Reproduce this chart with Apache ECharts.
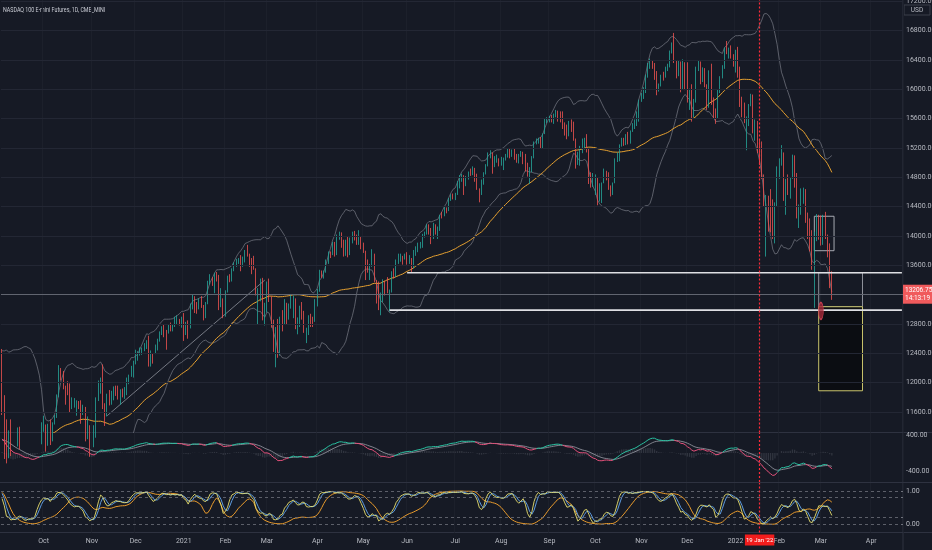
<!DOCTYPE html>
<html lang="en">
<head>
<meta charset="UTF-8">
<title>NASDAQ 100 E-mini Futures, 1D</title>
<style>
  html, body { margin: 0; padding: 0; background: #161a25; }
  #main { width: 932px; height: 550px; }
</style>
</head>
<body>
<div id="main"></div>
<script src="https://cdn.jsdelivr.net/npm/echarts@6/dist/echarts.min.js"></script>
<script>
  // exchange holidays (no daily bar)
  var holidays = ['2020-07-03', '2020-09-07', '2020-11-26', '2020-12-25', '2021-01-01', '2021-01-18',
    '2021-02-15', '2021-04-02', '2021-05-31', '2021-07-05', '2021-09-06', '2021-11-25', '2021-12-24',
    '2022-01-17', '2022-02-21', '2022-04-15'];
  var firstDay = '2020-09-03';
  var slotCount = 412;

  // closes before the first visible bar (Jul 1 - Sep 2 2020), only used for the indicators
  var warmupCloses = [
    10400, 10450, 10680, 10580, 10760, 10820, 10880, 10620, 10760, 10800, 10720, 10770, 11050, 10870, 10900, 10630, 10560, 10690, 10550, 10720, 10780, 10950,
    11080, 11120, 11160, 11300, 11200, 11130, 10900, 11180, 11210, 11190, 11350, 11430, 11380, 11510, 11590, 11680, 11770, 12000, 11950, 12070, 12100,
    12300, 12420
  ];

  var closes = [
    11700, 11500, 10970, 11280, 11050, 10960, 11150, 11280, 11120, 10990, 10880, 10920, 11090, 10760, 10800, 11060, 11230, 11200, 11330,
    11430, 11150, 11420, 11200, 11430, 11520, 11820, 12140, 12100, 11960, 11900, 11850, 11640, 11690, 11700, 11740, 11730, 11570, 11670, 11230, 11420, 11080,
    11150, 11330, 11750, 11990, 12000, 11700, 11540, 11820, 11740, 11860, 11920, 11880, 11780, 11890, 11820, 11860, 12030, 12080, 12200, 12250,
    12400, 12410, 12420, 12460, 12520, 12560, 12290, 12400, 12390, 12440, 12580, 12660, 12740, 12720, 12700, 12780, 12720, 12770, 12830, 12830, 12810, 12880,
    12690, 12800, 12740, 13050, 13180, 13040, 13030, 13110, 13040, 12890, 13070, 13370, 13440, 13390, 13450, 13420, 13050, 13150, 12930,
    13230, 13410, 13390, 13550, 13600, 13660, 13660, 13620, 13690, 13800, 13760, 13700, 13600, 13560, 13220, 13240, 13390, 12880, 12960,
    13360, 13130, 12770, 12560, 12700, 12370, 12850, 12800, 13090, 12990, 13050, 13100, 13150, 12750, 12830, 13010, 12880, 12690, 12710, 12900, 12890, 12830, 13060,
    13250, 13500, 13470, 13500, 13660, 13780, 13760, 13900, 13740, 14000, 14030, 13900, 13790, 13930, 13760, 13910, 14050, 13980, 13930, 14000, 13860,
    13800, 13560, 13520, 13600, 13730, 13380, 13360, 13000, 13100, 13390, 13300, 13230, 13240, 13500, 13440, 13650, 13680, 13720, 13690, 13700,
    13680, 13700, 13560, 13790, 13840, 13850, 13860, 14000, 14030, 14150, 14050, 13980, 14160, 14030, 14110, 14280, 14270, 14370, 14350, 14510, 14550, 14540,
    14560, 14740, 14800, 14830, 14700, 14800, 14860, 14850, 14910, 14780, 14650, 14580, 14740, 14850, 14960, 15130, 15140, 14970, 15060, 15060, 14990,
    15000, 15060, 15100, 15190, 15110, 15160, 15080, 15030, 15100, 15150, 15120, 14950, 14820, 14900, 15060, 15270, 15290, 15320, 15210, 15390, 15580, 15590,
    15600, 15590, 15650, 15690, 15660, 15570, 15480, 15440, 15420, 15550, 15540, 15330, 15000, 15010, 15150, 15300, 15330, 15200, 14750, 14690, 14690,
    14800, 14470, 14660, 14720, 14850, 14780, 14640, 14590, 14720, 15040, 15120, 15240, 15320, 15290, 15380, 15280, 15430, 15470, 15510, 15680, 15850,
    15920, 16010, 16170, 16340, 16350, 16320, 16220, 15970, 16050, 16190, 16180, 16290, 16310, 16510, 16570, 16380, 16310, 16380, 16000, 16370, 16140,
    15840, 15960, 15690, 15820, 16290, 16370, 16100, 16280, 16060, 15880, 16240, 15830, 15740, 15600, 15990, 16170, 16290, 16560, 16500, 16510, 16440, 16330,
    16500, 16280, 15770, 15760, 15590, 15600, 15790, 15830, 15420, 15570, 15160, 14990, 14800, 14420, 14550, 14190, 14170, 14000, 14440, 14930,
    15030, 15140, 14510, 14700, 14590, 14780, 15100, 14740, 14280, 14290, 14640, 14640, 14200, 14050, 13890, 13560, 14040, 14260, 14240,
    14010, 14240, 14010, 13840, 13320, 13206.75
  ];
  var highs = [
    12460, 11830, 11450, 11350, 11500, 11200, 11250, 11390, 11400, 11070, 11080, 10960, 11140, 11150, 10950, 11100, 11300, 11290, 11460,
    11550, 11330, 11440, 11500, 11460, 11560, 11840, 12240, 12200, 12160, 11940, 12020, 11990, 11800, 11790, 11760, 11750, 11760, 11700, 11620, 11540, 11390,
    11280, 11420, 11800, 12030, 12070, 12250, 11720, 11850, 11900, 11890, 11950, 11960, 11960, 11910, 11920, 11940, 12070, 12110, 12230, 12300,
    12450, 12430, 12480, 12480, 12540, 12580, 12640, 12440, 12400, 12520, 12600, 12700, 12770, 12790, 12720, 12800, 12820, 12790, 12900, 12920, 12870, 12900,
    12950, 12830, 12850, 13080, 13200, 13120, 13100, 13150, 13180, 13060, 13100, 13390, 13480, 13430, 13500, 13510, 13470, 13290, 13140,
    13260, 13460, 13480, 13560, 13640, 13690, 13700, 13740, 13720, 13810, 13880, 13760, 13660, 13730, 13560, 13290, 13420, 13430, 13090,
    13380, 13420, 13180, 12860, 12760, 12870, 12900, 12990, 13140, 13030, 13080, 13200, 13190, 13140, 12890, 13050, 13100, 12980, 12750, 12920, 12940, 12900, 13140,
    13280, 13540, 13530, 13530, 13680, 13790, 13790, 13920, 13920, 14020, 14060, 14050, 13950, 13950, 14000, 13980, 14060, 14070, 14020, 14080, 13980,
    13910, 13800, 13680, 13620, 13820, 13760, 13400, 13380, 13230, 13410, 13380, 13440, 13270, 13520, 13560, 13680, 13760, 13760, 13730, 13760,
    13780, 13740, 13680, 13810, 13860, 13910, 13920, 14030, 14060, 14160, 14160, 14110, 14180, 14160, 14130, 14290, 14330, 14400, 14390, 14520, 14570, 14580,
    14590, 14750, 14830, 14850, 14780, 14820, 14880, 14920, 14950, 14930, 14850, 14620, 14770, 14870, 14980, 15140, 15170, 15130, 15090, 15110, 15060,
    15080, 15070, 15120, 15200, 15200, 15180, 15190, 15120, 15120, 15160, 15150, 15070, 15000, 14940, 15090, 15290, 15330, 15340, 15350, 15400, 15600, 15620,
    15640, 15650, 15670, 15720, 15710, 15700, 15700, 15550, 15520, 15570, 15590, 15560, 15320, 15150, 15230, 15330, 15340, 15390, 15180, 14870, 14860,
    14840, 14770, 14720, 14730, 14920, 14890, 14870, 14690, 14730, 15060, 15140, 15250, 15340, 15340, 15390, 15420, 15440, 15540, 15590, 15700, 15860,
    15950, 16030, 16200, 16360, 16420, 16400, 16360, 16250, 16080, 16200, 16240, 16310, 16350, 16530, 16640, 16770, 16390, 16400, 16380, 16410, 16370,
    16370, 16010, 16070, 15870, 16310, 16400, 16380, 16300, 16290, 16070, 16260, 16350, 15890, 15700, 16000, 16180, 16330, 16570, 16660, 16570, 16600, 16480,
    16540, 16580, 16310, 15900, 15820, 15630, 15800, 15940, 15930, 15590, 15480, 15320, 15290, 14840, 14560, 14450, 14640, 14500, 14460, 14950,
    15060, 15240, 14980, 14780, 14840, 14800, 15110, 15080, 14860, 14430, 14650, 14660, 14640, 14320, 14240, 14080, 14060, 14300, 14290,
    14280, 14290, 14330, 14020, 13900, 13520
  ];
  var lows = [
    11560, 10960, 10900, 11000, 11000, 10770, 11000, 11130, 11090, 10820, 10780, 10620, 10880, 10730, 10670, 10750, 11090, 11140, 11160,
    11350, 11060, 11140, 11150, 11250, 11430, 11530, 11800, 12030, 11910, 11700, 11830, 11600, 11640, 11660, 11550, 11640, 11440, 11560, 11200, 11230, 10990,
    10990, 11120, 11250, 11770, 11850, 11640, 11410, 11560, 11690, 11700, 11760, 11820, 11770, 11700, 11800, 11780, 11830, 11980, 12080, 12070,
    12270, 12300, 12370, 12380, 12430, 12460, 12220, 12220, 12260, 12390, 12440, 12560, 12650, 12620, 12450, 12670, 12700, 12700, 12760, 12800, 12780, 12750,
    12570, 12650, 12600, 12770, 13000, 12950, 12940, 13000, 13020, 12850, 12880, 13080, 13340, 13320, 13220, 13380, 12990, 13030, 12880,
    12900, 13250, 13370, 13380, 13520, 13580, 13620, 13520, 13580, 13640, 13720, 13580, 13480, 13540, 13190, 12800, 13110, 12850, 12780,
    12980, 13100, 12750, 12420, 12210, 12340, 12480, 12700, 12860, 12800, 12860, 13010, 12880, 12730, 12660, 12760, 12860, 12680, 12540, 12650, 12760, 12760, 12830,
    13040, 13240, 13430, 13420, 13540, 13620, 13700, 13740, 13720, 13800, 13950, 13840, 13720, 13730, 13710, 13740, 13900, 13940, 13880, 13880, 13820,
    13770, 13400, 13500, 13400, 13580, 13370, 13080, 12990, 12920, 13100, 13190, 13220, 12970, 13230, 13420, 13440, 13620, 13650, 13610, 13680,
    13610, 13620, 13500, 13560, 13730, 13780, 13830, 13840, 13980, 14020, 14020, 13890, 13960, 14020, 13960, 14070, 14240, 14280, 14310, 14340, 14480, 14500,
    14490, 14560, 14650, 14740, 14560, 14680, 14770, 14820, 14830, 14740, 14630, 14460, 14560, 14700, 14840, 14950, 15060, 14850, 14940, 15000, 14950,
    14960, 14900, 15030, 15070, 15060, 15080, 15040, 15000, 14990, 15080, 14980, 14880, 14810, 14710, 14870, 15060, 15250, 15260, 15200, 15190, 15390, 15540,
    15550, 15550, 15530, 15620, 15560, 15550, 15460, 15370, 15320, 15360, 15420, 15300, 14920, 14970, 14960, 15130, 15180, 15140, 14710, 14660, 14670,
    14560, 14420, 14470, 14450, 14790, 14760, 14630, 14540, 14560, 14760, 15010, 15020, 15220, 15230, 15240, 15250, 15260, 15420, 15460, 15500, 15560,
    15830, 15870, 15950, 16160, 16280, 16280, 16130, 15920, 15970, 16040, 16120, 16160, 16250, 16300, 16490, 16360, 16150, 16180, 15960, 16050, 15990,
    15820, 15720, 15560, 15620, 15860, 16250, 16070, 16100, 16030, 15720, 15750, 15790, 15600, 15530, 15680, 15950, 16150, 16280, 16480, 16420, 16420, 16310,
    16230, 16160, 15760, 15620, 15540, 15170, 15500, 15770, 15400, 15300, 15130, 14970, 14780, 14400, 13720, 14060, 14050, 13960, 13900, 14410,
    14780, 14960, 14480, 14290, 14560, 14510, 14840, 14660, 14240, 14110, 14330, 14440, 14180, 13960, 13790, 13540, 13020, 13930, 13950,
    13870, 13880, 13960, 13710, 13290, 13130
  ];

  var titleText = 'NASDAQ 100 E-mini Futures, 1D, CME_MINI';
  var priceTicks = [11600, 12000, 12400, 12800, 13200, 13600, 14000, 14400, 14800, 15200, 15600, 16000, 16400, 16800, 17200];
  var macdTicks = [400, -400];
  var stochTicks = [1, 0];
  var stochLevels = [1, 0.8, 0.2, 0];
  var lastPrice = 13206.75;
  var countdown = '14:13:19';
  var markedDay = '2022-01-19';
  var markedLabel = "19 Jan '22";
  var upperLevel = ['2021-06-01', 13500];
  var lowerLevel = ['2021-05-19', 12990];
  var trendFrom = ['2020-11-11', 11550];
  var trendTo = ['2021-02-26', 13400];
  var boxSmall = [['2022-02-24', 14270], ['2022-03-09', 13800]];
  var boxStop = [['2022-02-28', 13500], ['2022-03-28', 13036]];
  var boxTarget = [['2022-02-28', 13036], ['2022-03-28', 11890]];
  var lowMark = ['2022-03-01', 12980];

  var monthNames = ['Jan', 'Feb', 'Mar', 'Apr', 'May', 'Jun', 'Jul', 'Aug', 'Sep', 'Oct', 'Nov', 'Dec'];
  var fontStack = "'Liberation Sans Narrow', Roboto, sans-serif";

  function buildDays(start, count) {
    var out = [];
    var d = new Date(start + 'T00:00:00Z');
    while (out.length < count) {
      var s = d.toISOString().slice(0, 10);
      var wd = d.getUTCDay();
      if (wd !== 0 && wd !== 6 && holidays.indexOf(s) < 0) out.push(s);
      d.setUTCDate(d.getUTCDate() + 1);
    }
    return out;
  }
  var days = buildDays(firstDay, slotCount);

  function isMonthStart(i) {
    return i > 0 && days[i].slice(0, 7) !== days[i - 1].slice(0, 7);
  }
  function monthLabel(v) {
    var m = +v.slice(5, 7);
    return m === 1 ? v.slice(0, 4) : monthNames[m - 1];
  }

  function smaArr(a, n) {
    var out = [], sum = 0;
    for (var i = 0; i < a.length; i++) {
      sum += a[i];
      if (i >= n) sum -= a[i - n];
      out.push(sum / Math.min(i + 1, n));
    }
    return out;
  }
  function emaArr(a, n) {
    var k = 2 / (n + 1), out = [a[0]];
    for (var i = 1; i < a.length; i++) out.push(a[i] * k + out[i - 1] * (1 - k));
    return out;
  }
  function bands(a, n, mult) {
    var up = [], dn = [];
    for (var i = 0; i < a.length; i++) {
      var w = a.slice(Math.max(0, i - n + 1), i + 1);
      var m = w.reduce(function (s, v) { return s + v; }, 0) / w.length;
      var sd = Math.sqrt(w.reduce(function (s, v) { return s + (v - m) * (v - m); }, 0) / w.length);
      up.push(m + mult * sd);
      dn.push(m - mult * sd);
    }
    return { up: up, dn: dn };
  }
  // position of c inside the [lo, hi] range of the last n bars
  function stochHL(c, h, l, n) {
    var out = [];
    for (var i = 0; i < c.length; i++) {
      var from = Math.max(0, i - n + 1);
      var lo = Math.min.apply(null, l.slice(from, i + 1));
      var hi = Math.max.apply(null, h.slice(from, i + 1));
      out.push(hi === lo ? 0.5 : (c[i] - lo) / (hi - lo));
    }
    return out;
  }

  var all = warmupCloses.concat(closes);
  var W = warmupCloses.length;
  function vis(a) { return a.slice(W); }

  var candles = closes.map(function (c, i) {
    var o = i === 0 ? warmupCloses[W - 1] : closes[i - 1];
    return [o, c, Math.min(lows[i], o, c), Math.max(highs[i], o, c)];
  });
  var allHigh = warmupCloses.concat(candles.map(function (k) { return k[3]; }));
  var allLow = warmupCloses.concat(candles.map(function (k) { return k[2]; }));

  var bb = bands(all, 20, 2);
  var ma = smaArr(all, 50);

  var e12 = emaArr(all, 12), e26 = emaArr(all, 26);
  var macd = e12.map(function (v, i) { return v - e26[i]; });
  var signal = emaArr(macd, 9);
  var macdV = vis(macd), signalV = vis(signal);
  var histV = macdV.map(function (v, i) { return v - signalV[i]; });
  var macdUp = [], macdDn = [];
  for (var i = 0; i < macdV.length; i++) {
    var upNow = histV[i] >= 0;
    var upNext = i + 1 < macdV.length ? histV[i + 1] >= 0 : upNow;
    macdUp.push(upNow || upNext ? macdV[i] : null);
    macdDn.push(!upNow || !upNext ? macdV[i] : null);
  }

  var rawK = stochHL(all, allHigh, allLow, 14);
  var kLine = smaArr(rawK, 3);
  var dLine = smaArr(kLine, 3);
  // slow cycle line: MACD position inside its 30-bar range, smoothed
  var slowLine = emaArr(stochHL(macd, macd, macd, 30), 6);

  function r(a, p) { return a.map(function (v) { return v == null ? null : +v.toFixed(p); }); }

  var gridLeft = 1, gridRight = 29;
  var labelColor = '#b7bac2';

  function xAxisFor(gi, showLabels) {
    return {
      type: 'category', gridIndex: gi, data: days, boundaryGap: true,
      axisLine: { show: false }, axisTick: { show: false },
      axisLabel: {
        show: showLabels, interval: function (idx) { return isMonthStart(idx); },
        formatter: function (v) { return monthLabel(v); },
        color: labelColor, fontSize: 7, fontFamily: fontStack, margin: 5
      },
      splitLine: { show: true, interval: function (idx) { return isMonthStart(idx); }, lineStyle: { color: '#1c202b', width: 1 } }
    };
  }
  function yAxisFor(gi, min, max, ticks, digits) {
    return {
      type: 'value', gridIndex: gi, position: 'right', min: min, max: max,
      axisLine: { show: false }, axisTick: { show: false, customValues: ticks }, splitLine: { show: false },
      axisLabel: {
        customValues: ticks, color: labelColor, fontSize: 7, fontFamily: fontStack, margin: 3,
        formatter: function (v) { return v.toFixed(digits); }
      }
    };
  }
  function gridAt(top, height) {
    return { left: gridLeft, right: gridRight, top: top, height: height, containLabel: false, outerBoundsMode: 'none' };
  }

  var redLine = { color: '#ff2a38', type: [2, 2], width: 1.2 };

  var chart = echarts.init(document.getElementById('main'));
  var option = {
    backgroundColor: '#161a25',
    animation: false,
    textStyle: { fontFamily: fontStack },
    grid: [gridAt(0, 432.5), gridAt(433, 49), gridAt(483, 49.5)],
    xAxis: [xAxisFor(0, false), xAxisFor(1, false), xAxisFor(2, true)],
    yAxis: [
      yAxisFor(0, 11321, 17219, priceTicks, 2),
      yAxisFor(1, -644, 444, macdTicks, 2),
      yAxisFor(2, -0.246, 1.24, stochTicks, 2)
    ],
    graphic: [
      { type: 'line', shape: { x1: 0, y1: 432.5, x2: 932, y2: 432.5 }, style: { stroke: '#2e3240', lineWidth: 1 }, silent: true },
      { type: 'line', shape: { x1: 0, y1: 482.5, x2: 932, y2: 482.5 }, style: { stroke: '#2e3240', lineWidth: 1 }, silent: true },
      { type: 'line', shape: { x1: 0, y1: 532.5, x2: 932, y2: 532.5 }, style: { stroke: '#2e3240', lineWidth: 1 }, silent: true },
      { type: 'line', shape: { x1: 903, y1: 0, x2: 903, y2: 550 }, style: { stroke: '#2e3240', lineWidth: 1 }, silent: true },
      { type: 'rect', shape: { x: 904, y: 5, width: 26, height: 10 }, style: { fill: '#161a25', stroke: '#3a3e4b', lineWidth: 1 }, silent: true },
      { type: 'text', x: 917, y: 10, style: { text: 'USD', fill: labelColor, font: '6.5px ' + fontStack, align: 'center', verticalAlign: 'middle' }, silent: true },
      {
        type: 'text', x: 3, y: 10, scaleX: 0.76, silent: true,
        style: { text: titleText, fill: '#c9ccd4', font: '7px ' + fontStack, verticalAlign: 'middle' }
      }
    ],
    series: [
      {
        name: 'BB lower', type: 'line', xAxisIndex: 0, yAxisIndex: 0, z: 1,
        data: r(vis(bb.dn), 1), symbol: 'none',
        lineStyle: { color: '#7c7f8a', width: 0.8, opacity: 0.85 },
        markLine: {
          silent: true, symbol: ['none', 'none'], label: { show: false },
          lineStyle: { color: '#232734', width: 1, type: 'solid' },
          data: priceTicks.map(function (v) { return { yAxis: v }; })
        }
      },
      {
        name: 'BB upper', type: 'line', xAxisIndex: 0, yAxisIndex: 0, z: 2,
        data: r(vis(bb.up), 1), symbol: 'none',
        lineStyle: { color: '#7c7f8a', width: 0.8, opacity: 0.85 }
      },
      {
        name: 'MA', type: 'line', xAxisIndex: 0, yAxisIndex: 0, z: 2,
        data: r(vis(ma), 1), symbol: 'none',
        lineStyle: { color: '#e5a030', width: 1 }
      },
      {
        name: 'trend', type: 'line', xAxisIndex: 0, yAxisIndex: 0, z: 2,
        data: [trendFrom, trendTo], symbol: 'none',
        lineStyle: { color: '#8d909a', width: 0.8 }
      },
      {
        name: 'NQ', type: 'candlestick', xAxisIndex: 0, yAxisIndex: 0, z: 3,
        data: candles, barWidth: 1.3,
        itemStyle: { color: '#26a69a', color0: '#ef5350', borderColor: '#26a69a', borderColor0: '#ef5350', borderWidth: 0.8 },
        markArea: {
          silent: true,
          data: [
            [{ xAxis: boxStop[0][0], yAxis: boxStop[0][1], itemStyle: { color: 'rgba(0,0,0,0)', borderColor: '#8f929b', borderWidth: 1 } },
              { xAxis: boxStop[1][0], yAxis: boxStop[1][1] }],
            [{ xAxis: boxTarget[0][0], yAxis: boxTarget[0][1], itemStyle: { color: '#0b0d12', borderColor: '#c9c46c', borderWidth: 1 } },
              { xAxis: boxTarget[1][0], yAxis: boxTarget[1][1] }],
            [{ xAxis: boxSmall[0][0], yAxis: boxSmall[0][1], itemStyle: { color: 'rgba(0,0,0,0)', borderColor: '#a6a9b1', borderWidth: 1 } },
              { xAxis: boxSmall[1][0], yAxis: boxSmall[1][1] }]
          ]
        },
        markLine: {
          silent: true, symbol: ['none', 'none'],
          data: [
            {
              yAxis: lastPrice, lineStyle: { color: 'rgba(150,153,162,0.55)', type: 'solid', width: 1 },
              label: {
                show: true, position: 'end', distance: 0,
                formatter: lastPrice.toFixed(2) + '\n' + countdown,
                backgroundColor: '#f05a5c', color: '#ffffff', fontSize: 6.5, lineHeight: 8,
                padding: [2, 2, 1, 2], fontFamily: fontStack
              }
            },
            { xAxis: markedDay, lineStyle: redLine, label: { show: false } }
          ]
        }
      },
      {
        name: 'resistance', type: 'line', xAxisIndex: 0, yAxisIndex: 0, z: 4,
        data: [upperLevel, [days[days.length - 1], upperLevel[1]]], symbol: 'none',
        lineStyle: { color: '#dedfe3', width: 1.6 }
      },
      {
        name: 'support', type: 'line', xAxisIndex: 0, yAxisIndex: 0, z: 4,
        data: [lowerLevel, [days[days.length - 1], lowerLevel[1]]], symbol: 'none',
        lineStyle: { color: '#dedfe3', width: 1.6 }
      },
      {
        name: 'low mark', type: 'scatter', xAxisIndex: 0, yAxisIndex: 0, z: 6,
        data: [lowMark], symbol: 'circle', symbolSize: [5, 17],
        itemStyle: { color: '#a52838', borderColor: '#e0465a', borderWidth: 1 }
      },
      {
        name: 'hist', type: 'bar', xAxisIndex: 1, yAxisIndex: 1,
        data: r(histV, 1), barWidth: 1.3,
        itemStyle: { color: 'rgba(120,123,134,0.28)' }
      },
      {
        name: 'signal', type: 'line', xAxisIndex: 1, yAxisIndex: 1,
        data: r(signalV, 1), symbol: 'none',
        lineStyle: { color: '#8d909a', width: 0.9 },
        markLine: {
          silent: true, symbol: ['none', 'none'], label: { show: false },
          data: [{ xAxis: markedDay, lineStyle: redLine }]
        }
      },
      {
        name: 'macd up', type: 'line', xAxisIndex: 1, yAxisIndex: 1,
        data: r(macdUp, 1), symbol: 'none', connectNulls: false,
        lineStyle: { color: '#2ac2a2', width: 1 }
      },
      {
        name: 'macd down', type: 'line', xAxisIndex: 1, yAxisIndex: 1,
        data: r(macdDn, 1), symbol: 'none', connectNulls: false,
        lineStyle: { color: '#e4507a', width: 1 }
      },
      {
        name: 'slow', type: 'line', xAxisIndex: 2, yAxisIndex: 2,
        data: r(vis(slowLine), 3), symbol: 'none',
        lineStyle: { color: '#e89a2c', width: 1 },
        markLine: {
          silent: true, symbol: ['none', 'none'], label: { show: false },
          lineStyle: { color: '#6f727c', type: [3, 3], width: 0.8 },
          data: stochLevels.map(function (v) { return { yAxis: v }; })
        }
      },
      {
        name: 'D', type: 'line', xAxisIndex: 2, yAxisIndex: 2,
        data: r(vis(dLine), 3), symbol: 'none',
        lineStyle: { color: '#5d9be0', width: 1 }
      },
      {
        name: 'K', type: 'line', xAxisIndex: 2, yAxisIndex: 2,
        data: r(vis(kLine), 3), symbol: 'none',
        lineStyle: { color: '#e6df6e', width: 0.9 },
        markLine: {
          silent: true, symbol: ['none', 'none'],
          data: [{
            xAxis: markedDay, lineStyle: redLine,
            label: {
              show: true, position: 'start', distance: 2, formatter: markedLabel,
              backgroundColor: '#f21c1c', color: '#ffffff', fontSize: 6, padding: [3, 1, 2, 1], fontFamily: fontStack
            }
          }]
        }
      }
    ]
  };
  chart.setOption(option);
</script>
</body>
</html>
